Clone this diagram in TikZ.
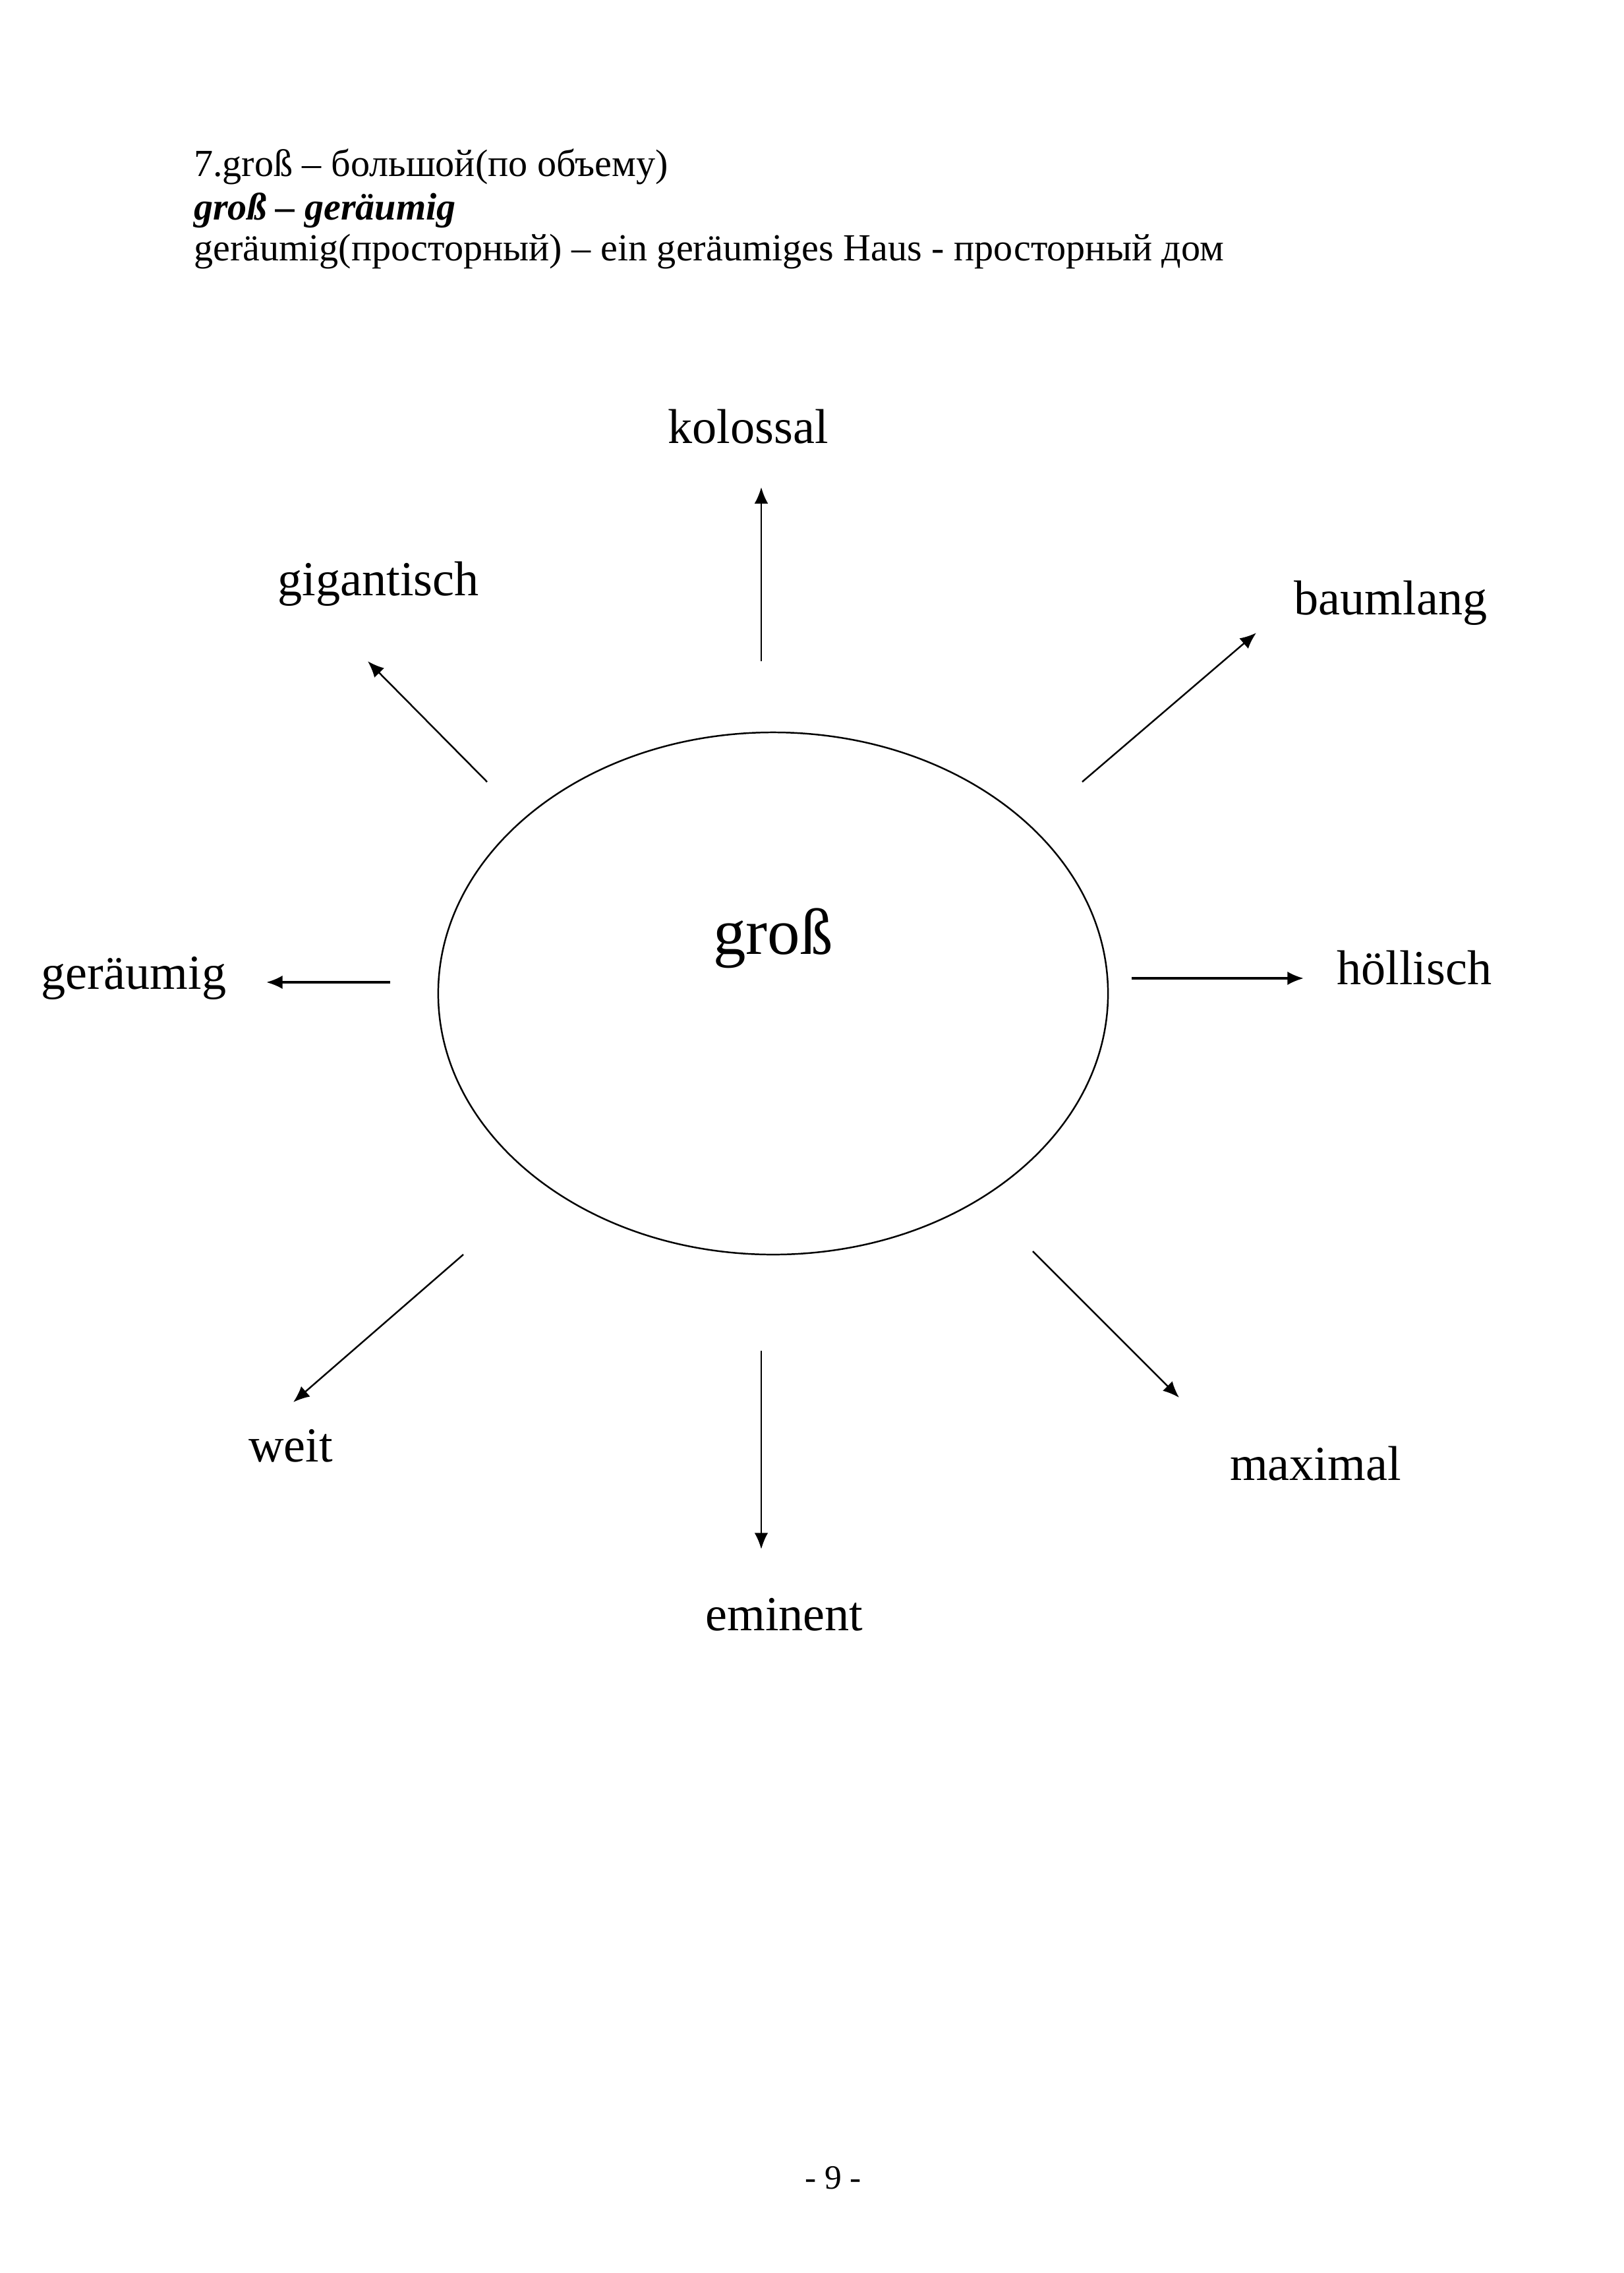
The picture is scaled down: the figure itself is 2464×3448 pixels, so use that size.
\documentclass[tikz,border=0pt]{standalone}
\usepackage{fontspec}
\setmainfont{Liberation Serif}
\usetikzlibrary{arrows.meta,shapes.geometric}

\begin{document}
\begin{tikzpicture}[x=0.085227mm, y=-0.085227mm, semithick,
    >={Latex[length=6pt,width=5pt]},
    head/.style={inner sep=0pt, anchor=base west, font=\fontsize{14.1}{16}\selectfont},
    word/.style={inner sep=0pt, anchor=base, font=\fontsize{18}{20}\selectfont}]
  \useasboundingbox (0,0) rectangle (2464,3448);
  % header lines
  \node[head] (head1) at (293,267) {7.groß – большой(по объему)};
  \node[head] (head2) at (293,333) {\textbf{\textit{groß – geräumig}}};
  \node[head] (head3) at (293,395) {geräumig(просторный) – ein geräumiges Haus - просторный дом};
  % centre
  \node[draw, ellipse, inner sep=0pt, minimum width=86.6mm, minimum height=67.5mm] (gross) at (1173,1507) {};
  \node[word, font=\fontsize{24}{26}\selectfont] (grossword) at (1173,1447) {groß};
  % words round it
  \node[word] (kolossal) at (1135,672) {kolossal};
  \node[word] (gigantisch) at (574,903) {gigantisch};
  \node[word] (baumlang) at (2110,932) {baumlang};
  \node[word] (geraeumig) at (203,1500) {geräumig};
  \node[word] (hoellisch) at (2146,1493) {höllisch};
  \node[word] (weit) at (441,2217) {weit};
  \node[word] (eminent) at (1190,2473) {eminent};
  \node[word] (maximal) at (1996,2245) {maximal};
  % arrows
  \foreach \nm/\sx/\sy/\ex/\ey in {kol/1155/1003/1155/739, gig/739/1186/558/1003,
      baum/1642/1186/1906/960, weit/703/1903/445/2127,
      emin/1155/2049/1155/2350, max/1567/1898/1789/2120} {
    \coordinate (\nm-a) at (\sx,\sy);
    \coordinate (\nm-b) at (\ex,\ey);
    \draw[->] (\nm-a) -- (\nm-b);
  }
  \coordinate (ger-a) at (592,1490);
  \coordinate (ger-b) at (404,1490);
  \coordinate (hoel-a) at (1717,1484);
  \coordinate (hoel-b) at (1978,1484);
  \draw[->, thick] (ger-a) -- (ger-b);
  \draw[->, thick] (hoel-a) -- (hoel-b);
  % page number
  \node[word, font=\fontsize{12.5}{14}\selectfont] (pagenum) at (1264,3320) {- 9 -};
\end{tikzpicture}
\end{document}
